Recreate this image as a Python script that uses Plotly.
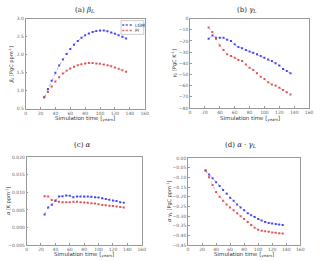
import plotly.graph_objects as go

time = [25, 30, 35, 40, 45, 50, 55, 60, 65, 70, 75, 80, 85, 90, 95, 100, 105, 110, 115, 120, 125, 130, 135]

beta_lgm = [0.82, 1.05, 1.28, 1.50, 1.70, 1.87, 2.02, 2.16, 2.28, 2.38, 2.47, 2.54, 2.59, 2.63, 2.66, 2.67, 2.67, 2.65, 2.62, 2.58, 2.54, 2.50, 2.45]
beta_pi = [0.82, 0.97, 1.12, 1.26, 1.38, 1.48, 1.56, 1.62, 1.67, 1.71, 1.74, 1.76, 1.77, 1.77, 1.76, 1.75, 1.73, 1.71, 1.68, 1.65, 1.61, 1.57, 1.53]

gamma_lgm = [-18, -15, -17, -17, -17, -19, -20, -23, -25.5, -26.5, -28, -29.5, -30.5, -32, -33.5, -35, -36.5, -38, -40, -42, -45, -47, -49]
gamma_pi = [-8, -12, -18, -24, -28, -32, -33.5, -35, -37, -38, -41, -44, -46, -49, -52, -54, -57, -59, -60, -62, -64, -66, -68]

alpha_lgm = [0.0037, 0.0057, 0.0065, 0.0077, 0.0088, 0.0089, 0.0091, 0.0090, 0.0086, 0.0088, 0.0088, 0.0088, 0.0088, 0.0087, 0.0086, 0.0085, 0.0083, 0.0081, 0.0079, 0.0077, 0.0075, 0.0072, 0.0070]
alpha_pi = [0.0089, 0.0088, 0.0078, 0.0075, 0.0073, 0.0072, 0.0072, 0.0072, 0.0073, 0.0073, 0.0072, 0.0071, 0.0070, 0.0069, 0.0068, 0.0066, 0.0064, 0.0063, 0.0062, 0.0061, 0.0060, 0.0058, 0.0057]

ag_lgm = [-0.065, -0.085, -0.105, -0.125, -0.145, -0.165, -0.185, -0.205, -0.220, -0.240, -0.255, -0.270, -0.285, -0.295, -0.305, -0.315, -0.323, -0.330, -0.335, -0.338, -0.341, -0.343, -0.345]
ag_pi = [-0.065, -0.100, -0.140, -0.175, -0.200, -0.220, -0.240, -0.255, -0.270, -0.285, -0.300, -0.315, -0.330, -0.345, -0.360, -0.370, -0.375, -0.378, -0.381, -0.384, -0.386, -0.388, -0.390]

series_names = ["LGM", "PI"]
x_title = "Simulation time [<i><sub>years</sub></i>]"

W, H = 320, 261


def px(x):
    return x / W


def py(y):
    return 1 - y / H


# (title, lgm, pi, yrange, dtick, tickformat, ytitle, x px domain, y px domain (top, bottom), title px, xtitle y px, ytitle x px)
panels = [
    ("(a) <i>β<sub>L</sub></i>", beta_lgm, beta_pi, [0.5, 3.0], 0.5, ".1f",
     "<i>β<sub>L</sub></i> [PgC ppm<sup>-1</sup>]", (25, 146), (17, 109), (85, 8), 119, 11),
    ("(b) <i>γ<sub>L</sub></i>", gamma_lgm, gamma_pi, [-80, 0], 10, "d",
     "<i>γ<sub>L</sub></i> [PgC K<sup>-1</sup>]", (192, 313), (17, 108), (250, 8), 119, 176),
    ("(c) <i>α</i>", alpha_lgm, alpha_pi, [-0.005, 0.020], 0.005, ".3f",
     "<i>α</i> [K ppm<sup>-1</sup>]", (26, 143), (158, 248), (83, 146), 257.5, 7),
    ("(d) <i>α · γ<sub>L</sub></i>", ag_lgm, ag_pi, [-0.45, 0.0], 0.05, ".2f",
     "<i>α·γ<sub>L</sub></i> [PgC ppm<sup>-1</sup>]", (190, 304), (159, 248), (243, 146), 257.5, 171),
]

colors_line = ["rgba(70,70,255,0.55)", "rgba(235,100,100,0.55)"]
colors_marker = ["rgba(40,40,240,0.85)", "rgba(215,60,60,0.85)"]

fig = go.Figure()
layout = dict(
    width=W, height=H, margin=dict(l=0, r=0, t=0, b=0),
    paper_bgcolor="white", plot_bgcolor="white", showlegend=False,
    font=dict(family="DejaVu Sans", size=5, color="#444"),
)
annotations = []
shapes = []
for i, (title, lgm, pi, yr, dt, tf, ytitle, xd, yd, tpos, xty, ytx) in enumerate(panels):
    n = "" if i == 0 else str(i + 1)
    for k, vals in enumerate([lgm, pi]):
        fig.add_trace(go.Scatter(x=time, y=vals, name=series_names[k], mode="lines+markers",
                                 line=dict(color=colors_line[k], width=0.8, dash="dot"),
                                 marker=dict(color=colors_marker[k], size=2, symbol="square"),
                                 xaxis="x" + n, yaxis="y" + n))
    axstyle = dict(showgrid=False, zeroline=False, showline=True, linecolor="#999", linewidth=0.6,
                   mirror=True, ticks="inside", ticklen=2, tickcolor="#999",
                   tickfont=dict(size=4.5, color="#666"))
    layout["xaxis" + n] = dict(domain=[px(xd[0]), px(xd[1])], range=[0, 160], dtick=20, tickformat="d",
                               anchor="y" + n, **axstyle)
    layout["yaxis" + n] = dict(domain=[py(yd[1]), py(yd[0])], range=yr, dtick=dt, tickformat=tf,
                               anchor="x" + n, **axstyle)
    annotations.append(dict(text=title, x=px(tpos[0]), y=py(tpos[1]), xref="paper", yref="paper",
                            xanchor="center", yanchor="middle", showarrow=False,
                            font=dict(family="DejaVu Serif", size=7, color="#222")))
    annotations.append(dict(text=x_title, x=px((xd[0] + xd[1]) / 2), y=py(xty), xref="paper", yref="paper",
                            xanchor="center", yanchor="middle", showarrow=False,
                            font=dict(size=5.5, color="#333")))
    annotations.append(dict(text=ytitle, x=px(ytx), y=py((yd[0] + yd[1]) / 2), xref="paper", yref="paper",
                            xanchor="center", yanchor="middle", showarrow=False, textangle=-90,
                            font=dict(size=5, color="#333")))

# small legend box in panel (a), upper right
lx0, lx1, ly0, ly1 = 122, 145, 19, 33
shapes.append(dict(type="rect", xref="paper", yref="paper", x0=px(lx0), x1=px(lx1), y0=py(ly1), y1=py(ly0),
                   line=dict(color="#999", width=0.5), fillcolor="white", layer="above"))
for k, (name, yy) in enumerate(zip(series_names, [23.5, 29])):
    shapes.append(dict(type="line", xref="paper", yref="paper", x0=px(lx0 + 2), x1=px(lx0 + 10),
                       y0=py(yy), y1=py(yy), line=dict(color=colors_line[k], width=0.8, dash="dot"),
                       layer="above"))
    for mx in (lx0 + 2, lx0 + 6, lx0 + 10):
        shapes.append(dict(type="rect", xref="paper", yref="paper", x0=px(mx - 0.8), x1=px(mx + 0.8),
                           y0=py(yy + 0.8), y1=py(yy - 0.8), line=dict(width=0),
                           fillcolor=colors_marker[k], layer="above"))
    annotations.append(dict(text=name, x=px(lx0 + 12), y=py(yy), xref="paper", yref="paper",
                            xanchor="left", yanchor="middle", showarrow=False,
                            font=dict(size=4.5, color="#333")))

layout["annotations"] = annotations
layout["shapes"] = shapes
fig.update_layout(**layout)
fig.write_html("out.html", config={"displayModeBar": False},
               post_script="document.body.style.margin='0';document.body.style.padding='0';")
